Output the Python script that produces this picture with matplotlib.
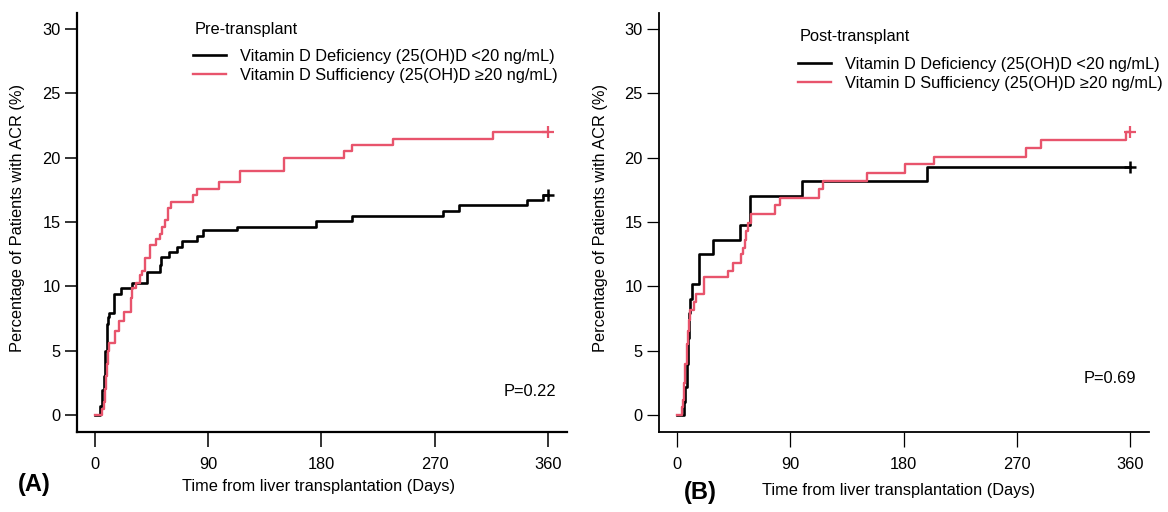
import matplotlib
matplotlib.use("Agg")
import matplotlib.pyplot as plt

plt.rcParams['font.family'] = ['Liberation Sans', 'DejaVu Sans']

# 数据：Kaplan-Meier 累积发生率 (事件时间, 事件后累计百分比)
# (A) Pre-transplant
a_def_days = [0, 4.5, 6, 7.5, 8.3, 9.5, 10.8, 11.6, 15.6, 21, 29.4, 41.8, 51.8, 53, 59.2,
              65.1, 69.5, 81, 85.7, 112.7, 176, 204.5, 276.8, 289.5, 343, 356, 360]
a_def_pct = [0, 0.7, 1.95, 3.0, 5.0, 7.05, 7.6, 7.9, 9.4, 9.9, 10.3, 11.1, 11.65, 12.3, 12.7,
             13.1, 13.55, 13.9, 14.4, 14.65, 15.1, 15.5, 15.9, 16.35, 16.7, 17.1, 17.1]
a_suf_days = [0, 5.5, 7, 8, 9, 10, 10.5, 11.5, 16, 19.5, 23, 29, 30, 33, 36, 37.5, 40, 44, 49,
              52, 53.5, 56, 58, 60.5, 78, 81.5, 99, 115, 150, 198, 204.5, 237, 316.5, 360]
a_suf_pct = [0, 0.5, 1.0, 2.0, 3.0, 4.0, 5.0, 5.6, 6.5, 7.3, 8.0, 9.1, 9.9, 10.3, 10.9, 11.2,
             12.2, 13.2, 13.7, 14.1, 14.6, 15.2, 16.1, 16.6, 17.1, 17.6, 18.1, 19.0, 20.0,
             20.5, 21.0, 21.5, 22.0, 22.0]

# (B) Post-transplant
b_def_days = [0, 5.6, 6.5, 7.5, 8.5, 9.5, 10.5, 11.5, 17.3, 28.7, 49.8, 57.8, 99.4, 198.3, 360]
b_def_pct = [0, 1.0, 2.2, 4.0, 6.0, 7.9, 9.0, 10.2, 12.5, 13.6, 14.8, 17.0, 18.2, 19.3, 19.3]
b_suf_days = [0, 3.5, 4.5, 5.5, 6.5, 7.5, 8.5, 9.5, 10.5, 13.5, 15, 21, 40, 44.5, 51, 52.5,
              53.5, 55, 56.5, 58.5, 78, 82, 112.5, 115.5, 150.5, 181, 204, 277, 289.5, 357, 360]
b_suf_pct = [0, 0.6, 1.2, 2.5, 4.0, 5.5, 6.5, 7.4, 8.2, 8.8, 9.4, 10.7, 11.2, 11.8, 12.5, 13.0,
             13.6, 14.3, 14.9, 15.6, 16.3, 16.9, 17.6, 18.2, 18.85, 19.5, 20.1, 20.8, 21.4,
             22.0, 22.0]

x_ticks = [0, 90, 180, 270, 360]
y_ticks = [0, 5, 10, 15, 20, 25, 30]
labels = ["Vitamin D Deficiency (25(OH)D <20 ng/mL)",
          "Vitamin D Sufficiency (25(OH)D \u226520 ng/mL)"]
RED = '#E8546C'
FS = 11.8

fig = plt.figure(figsize=(11.68, 5.12), dpi=100)
W, H = 1168, 512


def panel(left_px, right_px, xlim, days1, pct1, days2, pct2, title, title_px, leg_top_px,
          pval, ptxt, spw):
    ax = fig.add_axes([left_px / W, 1 - 431.7 / H, (right_px - left_px) / W, (431.7 - 13) / H])
    ax.step(days1, pct1, where='post', color='black', lw=1.9, label=labels[0])
    ax.step(days2, pct2, where='post', color=RED, lw=1.7, label=labels[1])
    ax.plot(days1[-1], pct1[-1], marker='+', color='black', ms=9, mew=1.8)
    ax.plot(days2[-1], pct2[-1], marker='+', color=RED, ms=9, mew=1.6)
    ax.set_xlim(xlim)
    ax.set_ylim(-1.3, 31.26)
    ax.set_xticks(x_ticks)
    ax.set_yticks(y_ticks)
    for s in ['top', 'right']:
        ax.spines[s].set_visible(False)
    for s in ['left', 'bottom']:
        ax.spines[s].set_linewidth(spw)
    ax.tick_params(axis='y', length=9, width=spw * 0.7, labelsize=FS, pad=3)
    ax.tick_params(axis='x', length=11, width=spw * 0.7, labelsize=FS, pad=7)
    ax.text(pval[0], pval[1], ptxt, ha='right', va='center', fontsize=FS)
    # 图例标题单独放置
    fig.text(title_px[0] / W, 1 - title_px[1] / H, title, ha='left', va='center', fontsize=FS)
    ax.legend(loc='upper left',
              bbox_to_anchor=((title_px[0] - 2 - left_px) / (right_px - left_px),
                              (431.7 - leg_top_px) / 418.7),
              frameon=False, fontsize=FS, handlelength=2.0,
              handletextpad=0.85, labelspacing=0.28,
              borderaxespad=0, borderpad=0)
    return ax


panel(77.3, 566.7, (-13.8, 374.6), a_def_days, a_def_pct, a_suf_days, a_suf_pct,
      "Pre-transplant", (195, 29.5), 48.5, (366, 1.8), "P=0.22", 1.6)
panel(659.3, 1149, (-14.3, 375.0), b_def_days, b_def_pct, b_suf_days, b_suf_pct,
      "Post-transplant", (800, 36), 56.5, (364.7, 2.8), "P=0.69", 1.3)

ylab = "Percentage of Patients with ACR (%)"
xlab = "Time from liver transplantation (Days)"
fig.text(18 / W, 1 - 218 / H, ylab, rotation=90, ha='center', va='center', fontsize=FS)
fig.text(600 / W, 1 - 218 / H, ylab, rotation=90, ha='center', va='center', fontsize=FS)
fig.text(319 / W, 1 - 487 / H, xlab, ha='center', va='center', fontsize=FS)
fig.text(898 / W, 1 - 490 / H, xlab, ha='center', va='center', fontsize=FS)
fig.text(34 / W, 1 - 484 / H, "(A)", ha='center', va='center', fontsize=17, fontweight='bold')
fig.text(700 / W, 1 - 492 / H, "(B)", ha='center', va='center', fontsize=17, fontweight='bold')

fig.savefig("out.png", dpi=100)
